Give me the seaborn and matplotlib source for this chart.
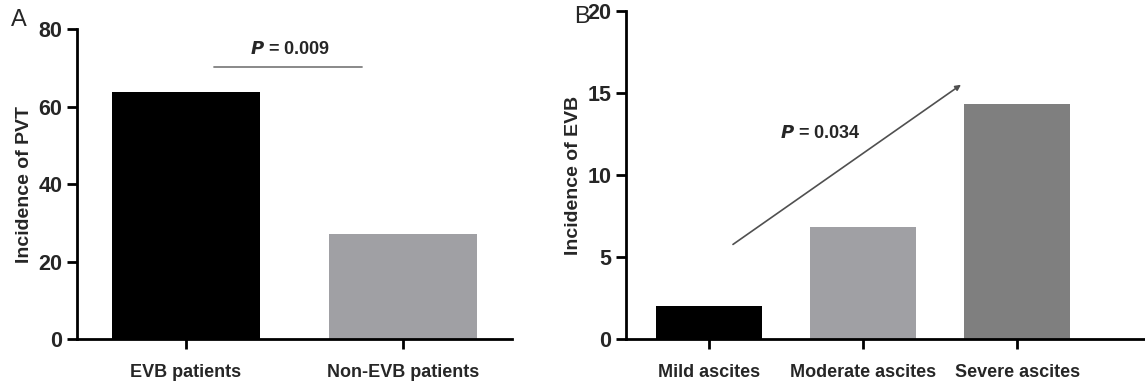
import seaborn as sns
import pandas as pd
from matplotlib import pyplot as plt

# panel A
groups_a = ["EVB patients", "Non-EVB patients"]
pvt_incidence = [63.7, 27.1]
colors_a = ["#000000", "#a0a0a4"]
p_text_a = "$\\boldsymbol{P}$ = 0.009"

# panel B
groups_b = ["Mild ascites", "Moderate ascites", "Severe ascites"]
evb_incidence = [2.0, 6.85, 14.3]
colors_b = ["#000000", "#a0a0a4", "#7f7f7f"]
p_text_b = "$\\boldsymbol{P}$ = 0.034"

sns.set_style("ticks")
plt.rcParams["font.family"] = ["Liberation Sans", "DejaVu Sans"]
plt.rcParams["mathtext.fontset"] = "custom"
plt.rcParams["mathtext.bf"] = "Liberation Sans:bold:italic"
plt.rcParams["mathtext.it"] = "Liberation Sans:italic"


def style_axis(ax, ylabel, ymax, ystep):
    for side in ["top", "right"]:
        ax.spines[side].set_visible(False)
    for side in ["left", "bottom"]:
        ax.spines[side].set_linewidth(2)
        ax.spines[side].set_color("black")
    ax.tick_params(axis="both", width=2, length=7, color="black")
    ax.tick_params(axis="y", labelsize=15.5)
    ax.tick_params(axis="x", labelsize=13, pad=11)
    ax.set_ylim(0, ymax)
    ax.set_yticks(range(0, ymax + 1, ystep))
    for lab in ax.get_xticklabels() + ax.get_yticklabels():
        lab.set_fontweight("bold")
    ax.set_xlabel("")
    ax.set_ylabel(ylabel, fontsize=14, fontweight="bold", labelpad=4)


fig = plt.figure(figsize=(11.45, 3.87), dpi=100)
ax_a = fig.add_axes([0.0672, 0.124, 0.3798, 0.801])
ax_b = fig.add_axes([0.5467, 0.124, 0.4533, 0.8476])

df_a = pd.DataFrame({"group": groups_a, "value": pvt_incidence})
sns.barplot(data=df_a, x="group", y="value", hue="group", palette=colors_a,
            legend=False, width=0.68, ax=ax_a, edgecolor="none")
ax_a.set_xlim(-0.5, 1.5)
style_axis(ax_a, "Incidence of PVT", 80, 20)
ax_a.plot([0.13, 0.81], [70.2, 70.2], color="#808080", lw=1.3)
ax_a.text(0.48, 74.6, p_text_a, ha="center", va="center", fontsize=13,
          fontweight="bold")

df_b = pd.DataFrame({"group": groups_b, "value": evb_incidence})
sns.barplot(data=df_b, x="group", y="value", hue="group", palette=colors_b,
            legend=False, width=0.69, ax=ax_b, edgecolor="none")
ax_b.set_xlim(-0.54, 2.83)
style_axis(ax_b, "Incidence of EVB", 20, 5)
ax_b.annotate("", xy=(1.65, 15.6), xytext=(0.14, 5.67),
              arrowprops=dict(arrowstyle="-|>", color="#505050", lw=1.2,
                              mutation_scale=8))
ax_b.text(0.72, 12.55, p_text_b, ha="center", va="center", fontsize=13,
          fontweight="bold")

fig.text(0.0095, 0.948, "A", fontsize=17, ha="left", va="center")
fig.text(0.501, 0.955, "B", fontsize=17, ha="left", va="center")

fig.savefig("out.png", dpi=100)
